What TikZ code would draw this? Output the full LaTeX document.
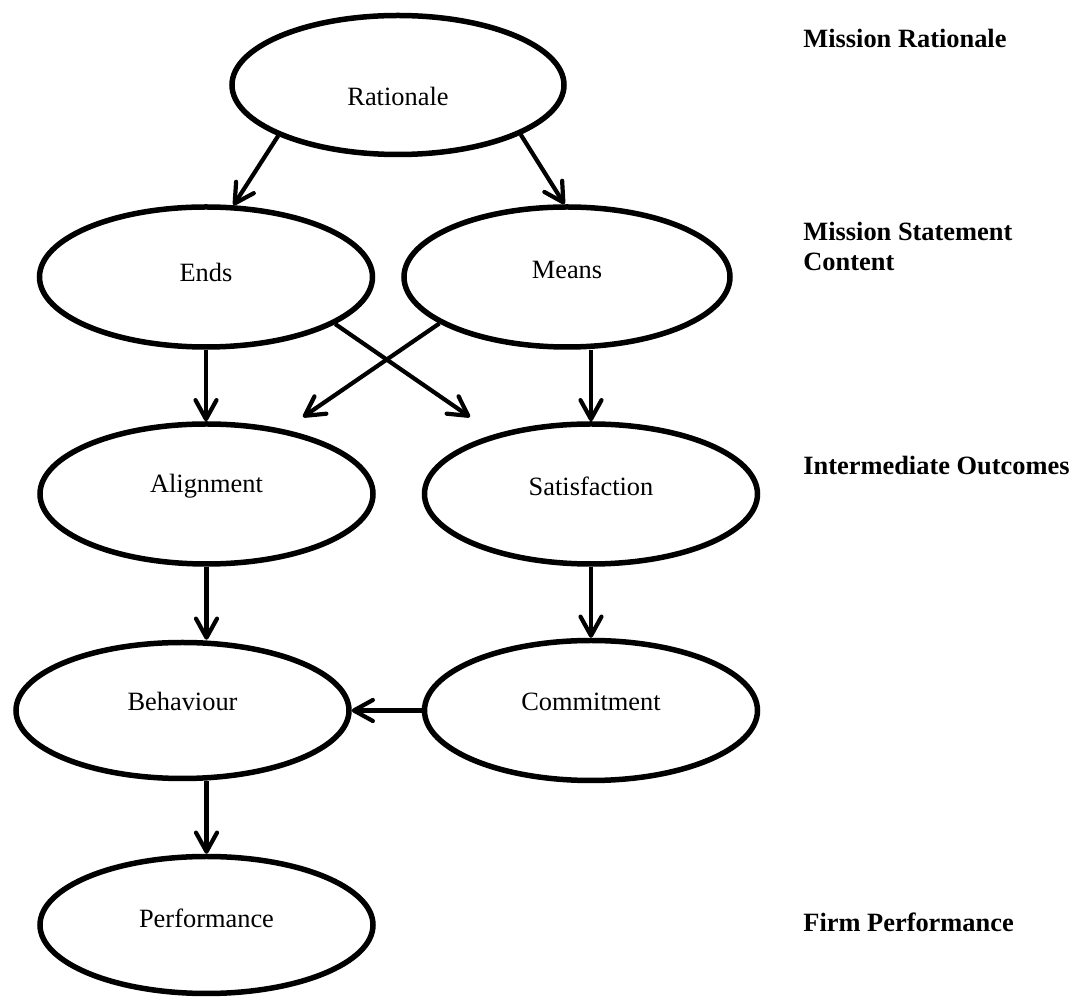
\documentclass[tikz,border=0pt]{standalone}
\usepackage{fontspec}
\setmainfont{Liberation Serif}
\usetikzlibrary{arrows.meta,shapes.geometric}
\begin{document}
\begin{tikzpicture}[x=0.5pt,y=-0.5pt,
  oval/.style={ellipse,draw,line width=2.75pt,minimum width=166.5pt,minimum height=70pt,inner sep=0pt},
  link/.style={line width=2.1pt,-{Straight Barb[length=9.5pt,width=10.5pt,round]}},
  tag/.style={font=\bfseries\fontsize{13.2}{15}\selectfont,anchor=base west,inner sep=0pt},
  lab/.style={font=\fontsize{13.2}{15}\selectfont,anchor=base,inner sep=0pt}
]
\useasboundingbox (0,0) rectangle (1073,999);

\node[oval,minimum width=166pt,minimum height=69.5pt,label={[lab,yshift=-5.5pt]center:Rationale}] (R) at (398,85) {};
\node[oval,label={[lab,yshift=2.5pt]center:Ends}] (E) at (206,277) {};
\node[oval,minimum width=163pt,label={[lab,yshift=3.5pt]center:Means}] (M) at (567,277) {};
\node[oval,label={[lab,yshift=4pt]center:Alignment}] (A) at (206.5,494) {};
\node[oval,label={[lab,yshift=4pt]center:Satisfaction}] (S) at (591,494) {};
\node[oval,minimum height=68pt,label={[lab,yshift=4.5pt]center:Behaviour}] (B) at (182.5,710.5) {};
\node[oval,label={[lab,yshift=4.5pt]center:Commitment}] (C) at (591,710.5) {};
\node[oval,minimum height=68.5pt,label={[lab,yshift=3.5pt]center:Performance}] (P) at (206.5,925) {};

\node[tag] (t1) at (803,48) {Mission Rationale};
\node[tag,anchor=north west,align=left] (t2) at (803,222) {Mission Statement\\Content};
\node[tag] (t3) at (803,475) {Intermediate Outcomes};
\node[tag] (t4) at (803,932) {Firm Performance};

\coordinate (xe) at (470,417);
\coordinate (xm) at (303,417);

\draw[link] (R.-157) -- (E.69);
\draw[link] (R.-22) -- (M.92);
\draw[link] (E.south) -- (E.south |- A.north);
\draw[link] (S.north |- M.south) -- (S.north);
\draw[link] (E.-20) -- (xe);
\draw[link] (M.-160) -- (xm);
\draw[link] (A.south) -- (A.south |- B.north);
\draw[link] (S.south) -- (C.north);
\draw[link] (C.west) -- (B.east);
\draw[link] (P.north |- B.south) -- (P.north);
\end{tikzpicture}
\end{document}
